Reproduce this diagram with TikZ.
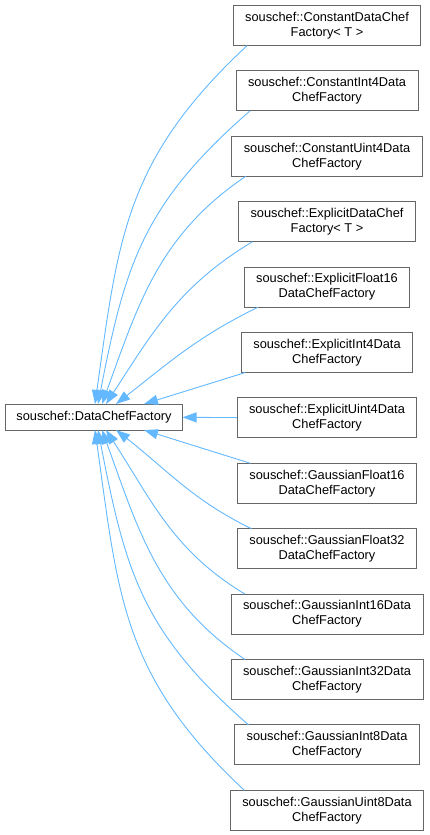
\documentclass[tikz,border=0pt]{standalone}
\usepackage{fontspec}
\setmainfont{Liberation Sans}
\usepackage{xcolor}
\usetikzlibrary{arrows.meta,positioning}
\definecolor{edgeblue}{HTML}{63B8FF}

\begin{document}
\begin{tikzpicture}[
    x=1pt, y=1pt,
    node distance=25.4pt,
    childbox/.style={draw=black!60, line width=0.9pt, outer sep=0pt, minimum height=40pt, align=center, inner xsep=12pt, inner ysep=3pt, font=\fontsize{12.8}{15}\selectfont},
    parentbox/.style={childbox, minimum height=26pt, inner xsep=11pt},
    inh/.style={draw=edgeblue, line width=0.9pt, -{Triangle[length=14pt,width=10pt]}}]
  \useasboundingbox (0,0) rectangle (429,-835);
  \node[parentbox] (dcf) at (94,-417) {souschef::DataChefFactory};
  \node[childbox] (cdc) at (327,-25.5) {souschef::ConstantDataChef\\Factory< T >};
  \node[childbox, below=of cdc] (ci4) {souschef::ConstantInt4Data\\ChefFactory};
  \node[childbox, below=of ci4] (cu4) {souschef::ConstantUint4Data\\ChefFactory};
  \node[childbox, below=of cu4] (edc) {souschef::ExplicitDataChef\\Factory< T >};
  \node[childbox, below=of edc] (ef16) {souschef::ExplicitFloat16\\DataChefFactory};
  \node[childbox, below=of ef16] (ei4) {souschef::ExplicitInt4Data\\ChefFactory};
  \node[childbox, below=of ei4] (eu4) {souschef::ExplicitUint4Data\\ChefFactory};
  \node[childbox, below=of eu4] (gf16) {souschef::GaussianFloat16\\DataChefFactory};
  \node[childbox, below=of gf16] (gf32) {souschef::GaussianFloat32\\DataChefFactory};
  \node[childbox, below=of gf32] (gi16) {souschef::GaussianInt16Data\\ChefFactory};
  \node[childbox, below=of gi16] (gi32) {souschef::GaussianInt32Data\\ChefFactory};
  \node[childbox, below=of gi32] (gi8) {souschef::GaussianInt8Data\\ChefFactory};
  \node[childbox, below=of gi8] (gu8) {souschef::GaussianUint8Data\\ChefFactory};
  \draw[inh] ([xshift=14pt]cdc.south west) to[out=-137, in=82, looseness=1.1] ([xshift=1pt]dcf.north);
  \draw[inh] ([xshift=14pt]ci4.south west) to[out=-139, in=79, looseness=1.1] ([xshift=4pt]dcf.north);
  \draw[inh] ([xshift=14pt]cu4.south west) to[out=-146, in=70] ([xshift=8pt]dcf.north);
  \draw[inh] ([xshift=14pt]edc.south west) to[out=-149, in=57] ([xshift=12pt]dcf.north);
  \draw[inh] ([xshift=14pt]ef16.south west) to[out=-154, in=38] ([xshift=22pt]dcf.north);
  \draw[inh] ([xshift=4pt]ei4.south west) -- ([xshift=50pt]dcf.north);
  \draw[inh] (eu4) -- (dcf);
  \draw[inh] ([xshift=13pt]gf16.north west) -- ([xshift=50pt]dcf.south);
  \draw[inh] ([xshift=14pt]gf32.north west) to[out=154, in=-38] ([xshift=22pt]dcf.south);
  \draw[inh] ([xshift=14pt]gi16.north west) to[out=149, in=-57] ([xshift=12pt]dcf.south);
  \draw[inh] ([xshift=14pt]gi32.north west) to[out=146, in=-70] ([xshift=8pt]dcf.south);
  \draw[inh] ([xshift=14pt]gi8.north west) to[out=139, in=-79, looseness=1.1] ([xshift=4pt]dcf.south);
  \draw[inh] ([xshift=14pt]gu8.north west) to[out=137, in=-82, looseness=1.1] ([xshift=1pt]dcf.south);
\end{tikzpicture}
\end{document}
